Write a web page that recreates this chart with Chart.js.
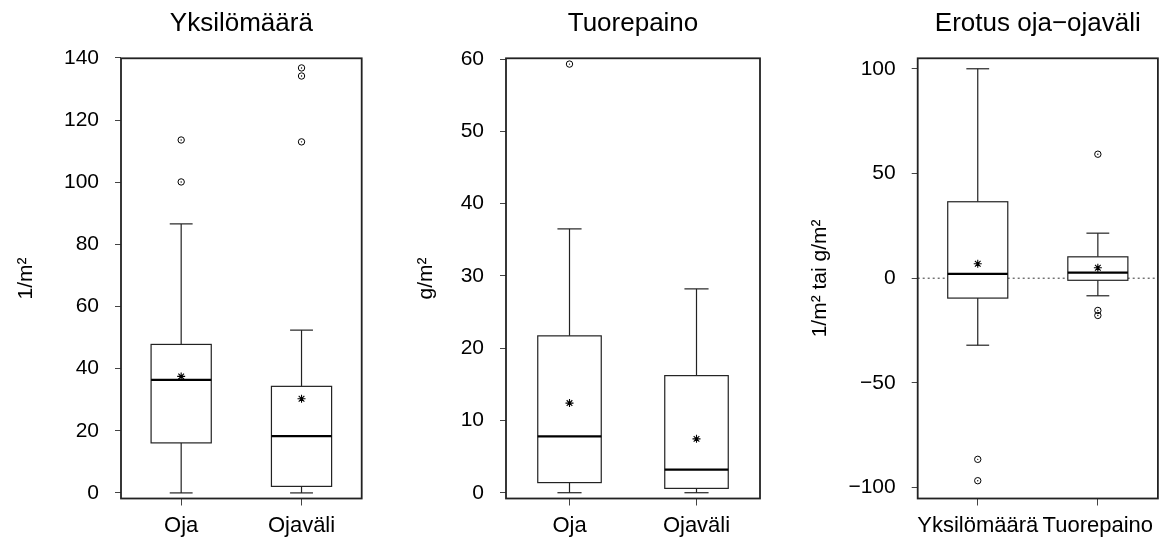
<!DOCTYPE html>
<html><head><meta charset="utf-8">
<script src="https://cdn.jsdelivr.net/npm/chart.js@4.4.1/dist/chart.umd.min.js"></script>
<style>
html,body{margin:0;padding:0;background:#fff;width:1163px;height:539px;overflow:hidden}
canvas{position:absolute;top:0}
</style></head><body>
<canvas id="c1" width="380" height="539" style="left:0px"></canvas>
<canvas id="c2" width="390" height="539" style="left:385px"></canvas>
<canvas id="c3" width="388" height="539" style="left:775px"></canvas>
<script>
// ---------- Panel 1: Yksilömäärä (1/m²) ----------
const groups = ['Oja', 'Ojaväli'];
const ind_whiskLo = [0, 0];
const ind_q1 = [16.1, 2.1];
const ind_median = [36.4, 18.3];
const ind_q3 = [47.8, 34.3];
const ind_whiskHi = [86.6, 52.4];
const ind_mean = [37.5, 30.3];
const ind_outliers = [[113.6, 100.1], [136.8, 134.2, 113.0]];
const ind_yTicks = [0, 20, 40, 60, 80, 100, 120, 140];

// ---------- Panel 2: Tuorepaino (g/m²) ----------
const wt_whiskLo = [0, 0];
const wt_q1 = [1.4, 0.6];
const wt_median = [7.8, 3.2];
const wt_q3 = [21.7, 16.2];
const wt_whiskHi = [36.5, 28.2];
const wt_mean = [12.4, 7.45];
const wt_outliers = [[59.3], []];
const wt_yTicks = [0, 10, 20, 30, 40, 50, 60];

// ---------- Panel 3: Erotus oja−ojaväli ----------
const diffGroups = ['Yksilömäärä', 'Tuorepaino'];
const diff_whiskLo = [-32.0, -8.4];
const diff_q1 = [-9.5, -1.0];
const diff_median = [2.1, 2.7];
const diff_q3 = [36.5, 10.2];
const diff_whiskHi = [100.0, 21.5];
const diff_mean = [6.9, 5.0];
const diff_outliers = [[-86.5, -96.7], [59.2, -15.4, -17.8]];
const diff_yTicks = [-100, -50, 0, 50, 100];

const FONT = "'Liberation Sans', Arial, Helvetica, sans-serif";
Chart.defaults.font.family = FONT;
Chart.defaults.color = '#000';

const boxplotPlugin = {
  id: 'boxplot',
  beforeDatasetsDraw(chart, args, o) {
    const {ctx, chartArea: a, scales: {x, y}} = chart;
    ctx.save();
    if (o.refLine !== undefined && o.refLine !== null) {
      const yr = y.getPixelForValue(o.refLine);
      ctx.strokeStyle = '#333'; ctx.lineWidth = 1; ctx.setLineDash([2, 3]);
      ctx.beginPath(); ctx.moveTo(a.left, yr); ctx.lineTo(a.right, yr); ctx.stroke();
      ctx.setLineDash([]);
    }
    const line = (x1, y1, x2, y2) => { ctx.beginPath(); ctx.moveTo(x1, y1); ctx.lineTo(x2, y2); ctx.stroke(); };
    o.q1.forEach((_, i) => {
      const c = i + 1;
      const xc = x.getPixelForValue(c);
      const xl = x.getPixelForValue(c - 0.25), xr = x.getPixelForValue(c + 0.25);
      const cl = x.getPixelForValue(c - 0.095), cr = x.getPixelForValue(c + 0.095);
      const ylo = y.getPixelForValue(o.lo[i]), yq1 = y.getPixelForValue(o.q1[i]);
      const ymd = y.getPixelForValue(o.med[i]), yq3 = y.getPixelForValue(o.q3[i]);
      const yhi = y.getPixelForValue(o.hi[i]);
      ctx.strokeStyle = '#222'; ctx.lineWidth = 1.2;
      line(xc, ylo, xc, yq1); line(xc, yq3, xc, yhi);
      line(cl, ylo, cr, ylo); line(cl, yhi, cr, yhi);
      ctx.fillStyle = '#fff';
      ctx.fillRect(xl, yq3, xr - xl, yq1 - yq3);
      ctx.strokeRect(xl, yq3, xr - xl, yq1 - yq3);
      ctx.strokeStyle = '#000'; ctx.lineWidth = 2.3;
      line(xl, ymd, xr, ymd);
    });
    ctx.restore();
  },
  afterDraw(chart) {
    const {ctx, chartArea: a} = chart;
    ctx.save();
    ctx.strokeStyle = '#222'; ctx.lineWidth = 1.8;
    ctx.strokeRect(a.left, a.top, a.right - a.left, a.bottom - a.top);
    ctx.restore();
  }
};

const fmt = v => (v < 0 ? '\u2212' + Math.abs(v) : String(v));

function makeChart(id, cfg) {
  const outPts = [];
  cfg.outliers.forEach((arr, i) => arr.forEach(v => outPts.push({x: i + 1, y: v})));
  const meanPts = cfg.mean.map((v, i) => ({x: i + 1, y: v}));
  return new Chart(document.getElementById(id), {
    type: 'scatter',
    data: {datasets: [
      {data: outPts, pointStyle: 'circle', pointRadius: 3.2, borderColor: '#000', backgroundColor: 'rgba(0,0,0,0)', borderWidth: 1},
      {data: outPts, pointStyle: 'circle', pointRadius: 0.7, borderColor: '#000', backgroundColor: '#000', borderWidth: 0},
      {data: meanPts, pointStyle: 'star', pointRadius: 4, borderColor: '#000', backgroundColor: '#000', borderWidth: 1.1}
    ]},
    plugins: [boxplotPlugin],
    options: {
      responsive: false, animation: false, events: [],
      layout: {padding: {left: 0, right: cfg.padRight, top: 0, bottom: 0}},
      plugins: {
        legend: {display: false}, tooltip: {enabled: false},
        title: {display: true, text: cfg.title, fullSize: false, color: '#000',
          font: {size: 26, weight: 'normal', family: FONT}, padding: {top: 8.7, bottom: 18.4}},
        boxplot: {lo: cfg.lo, q1: cfg.q1, med: cfg.med, q3: cfg.q3, hi: cfg.hi, refLine: cfg.refLine}
      },
      scales: {
        x: {
          type: 'linear', min: 0.5, max: 2.5,
          afterBuildTicks: s => { s.ticks = cfg.cats.map((_, i) => ({value: i + 1})); },
          afterFit: s => { s.height = 40.5; },
          ticks: {callback: v => cfg.cats[v - 1], font: {size: 22}, padding: 7, color: '#000', maxRotation: 0, autoSkip: false},
          grid: {drawOnChartArea: false, drawTicks: true, tickLength: 7, color: '#444'},
          border: {display: false}
        },
        y: {
          type: 'linear', min: cfg.ymin, max: cfg.ymax,
          afterBuildTicks: s => { s.ticks = cfg.yTicks.map(v => ({value: v})); },
          afterFit: s => { s.width = cfg.yWidth; },
          ticks: {callback: v => fmt(v), font: {size: 21}, padding: 16, color: '#000'},
          grid: {drawOnChartArea: false, drawTicks: true, tickLength: 6, color: '#444'},
          border: {display: false},
          title: {display: true, text: cfg.yTitle, color: '#000', font: {size: 21}, padding: {top: cfg.yTitlePad, bottom: 0}}
        }
      }
    }
  });
}

makeChart('c1', {
  title: 'Yksilömäärä', yTitle: '1/m²', cats: groups,
  lo: ind_whiskLo, q1: ind_q1, med: ind_median, q3: ind_q3, hi: ind_whiskHi,
  mean: ind_mean, outliers: ind_outliers, yTicks: ind_yTicks,
  ymin: -1.8, ymax: 139.9, yWidth: 121, padRight: 18.3, yTitlePad: 13.4
});
makeChart('c2', {
  title: 'Tuorepaino', yTitle: 'g/m²', cats: groups,
  lo: wt_whiskLo, q1: wt_q1, med: wt_median, q3: wt_q3, hi: wt_whiskHi,
  mean: wt_mean, outliers: wt_outliers, yTicks: wt_yTicks,
  ymin: -0.8, ymax: 60.1, yWidth: 121, padRight: 15, yTitlePad: 28.5
});
makeChart('c3', {
  title: 'Erotus oja\u2212ojaväli', yTitle: '1/m² tai g/m²', cats: diffGroups,
  lo: diff_whiskLo, q1: diff_q1, med: diff_median, q3: diff_q3, hi: diff_whiskHi,
  mean: diff_mean, outliers: diff_outliers, yTicks: diff_yTicks,
  ymin: -105.2, ymax: 105.0, yWidth: 142.7, padRight: 4.7, yTitlePad: 33, refLine: 0
});
</script>
</body></html>
